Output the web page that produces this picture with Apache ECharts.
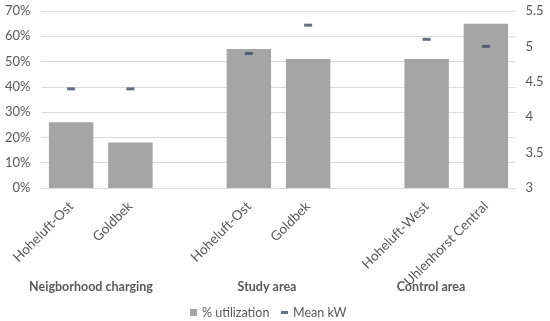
<!DOCTYPE html>
<html><head><meta charset="utf-8">
<script src="https://cdn.jsdelivr.net/npm/echarts@6/dist/echarts.min.js"></script>
<style>html,body{margin:0;padding:0;background:#fff}#c{width:550px;height:321px}</style>
</head><body><div id="c"></div>
<script>
const categories = ['Hoheluft-Ost', 'Goldbek', '', 'Hoheluft-Ost', 'Goldbek', '', 'Hoheluft-West', 'Uhlenhorst Central'];
const utilization = [26, 18, null, 55, 51, null, 51, 65];
const meanKW = [4.4, 4.4, null, 4.9, 5.3, null, 5.1, 5.0];
const leftTicks = [0, 70, 10];
const rightTicks = [3, 5.5, 0.5];
const groups = ['Neigborhood charging', 'Study area', 'Control area'];
const groupX = [91, 267, 431];

const txt = '#595959';
const font = 'Lato';
const chart = echarts.init(document.getElementById('c'));
chart.setOption({
  animation: false,
  textStyle: {fontFamily: font},
  grid: {left: 41.5, right: 34.5, top: 11, bottom: 133, containLabel: false},
  xAxis: {
    type: 'category', data: categories,
    axisLine: {lineStyle: {color: '#d9d9d9'}},
    axisTick: {show: false},
    axisLabel: {rotate: 45, color: txt, fontSize: 13.5, fontFamily: font, interval: 0, margin: 16}
  },
  yAxis: [{
    type: 'value', min: leftTicks[0], max: leftTicks[1], interval: leftTicks[2],
    axisLabel: {formatter: '{value}%', color: txt, fontSize: 13, fontFamily: font, margin: 11},
    splitLine: {lineStyle: {color: '#d9d9d9'}},
    axisLine: {show: false}, axisTick: {show: false}
  }, {
    type: 'value', min: rightTicks[0], max: rightTicks[1], interval: rightTicks[2],
    axisLabel: {color: txt, fontSize: 13, fontFamily: font, margin: 10},
    splitLine: {show: false}, axisLine: {show: false}, axisTick: {show: false}
  }],
  legend: [{
    data: ['% utilization'], left: 185, top: 301, itemWidth: 7, itemHeight: 7, itemGap: 4,
    textStyle: {color: txt, fontSize: 12.5, fontFamily: font}, icon: 'rect'
  }, {
    data: ['Mean kW'], left: 276, top: 301, itemWidth: 7, itemHeight: 3,
    textStyle: {color: txt, fontSize: 12.5, fontFamily: font}, icon: 'rect'
  }],
  series: [{
    name: '% utilization', type: 'bar', data: utilization, barWidth: '75%',
    itemStyle: {color: '#a5a5a5'}
  }, {
    name: 'Mean kW', type: 'scatter', yAxisIndex: 1, data: meanKW,
    symbol: 'rect', symbolSize: [8, 3], itemStyle: {color: '#3d4b63'}
  }],
  graphic: groups.map((g, i) => ({
    type: 'text', x: groupX[i], y: 280,
    style: {text: g, fill: txt, font: 'bold 12.5px ' + font, textAlign: 'center'}
  }))
});
</script></body></html>
